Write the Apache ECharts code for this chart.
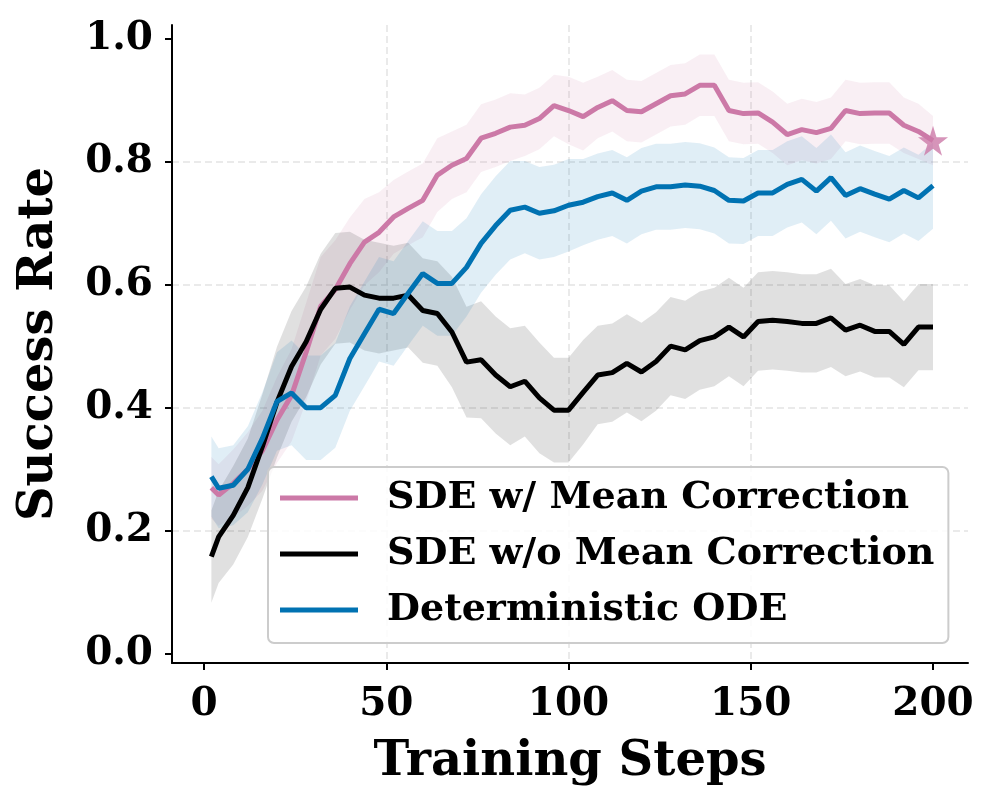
<!DOCTYPE html>
<html>
<head>
<meta charset="utf-8">
<script src="https://cdn.jsdelivr.net/npm/echarts@6/dist/echarts.min.js"></script>
<style>
  html, body { margin: 0; padding: 0; background: #fff; }
  #chart { width: 997px; height: 803px; }
</style>
</head>
<body>
<div id="chart"></div>
<script>
// 训练步数
const steps = [2, 4, 8, 12, 16, 20, 24, 28, 32, 36, 40, 44, 48, 52, 56, 60, 64, 68, 72, 76,
  80, 84, 88, 92, 96, 100, 104, 108, 112, 116, 120, 124, 128, 132, 136, 140, 144, 148, 152, 156,
  160, 164, 168, 172, 176, 180, 184, 188, 192, 196, 200];

// SDE w/ Mean Correction
const meanCorr = [0.27, 0.258, 0.277, 0.30, 0.33, 0.38, 0.42, 0.49, 0.565, 0.592,
  0.634, 0.669, 0.685, 0.71, 0.724, 0.737, 0.778, 0.794, 0.805, 0.838,
  0.846, 0.856, 0.859, 0.870, 0.891, 0.883, 0.873, 0.888, 0.899, 0.883,
  0.881, 0.894, 0.907, 0.910, 0.924, 0.924, 0.883, 0.878, 0.879, 0.864,
  0.844, 0.852, 0.847, 0.854, 0.883, 0.878, 0.879, 0.879, 0.859, 0.849, 0.834];
const meanCorrStd = [0.05, 0.05, 0.055, 0.06, 0.065, 0.07, 0.075, 0.08, 0.08, 0.08,
  0.075, 0.07, 0.065, 0.06, 0.06, 0.06, 0.06, 0.055, 0.055, 0.055,
  0.055, 0.055, 0.05, 0.05, 0.05, 0.055, 0.055, 0.05, 0.05, 0.05,
  0.05, 0.05, 0.05, 0.05, 0.05, 0.05, 0.05, 0.05, 0.05, 0.05,
  0.05, 0.05, 0.05, 0.05, 0.05, 0.05, 0.05, 0.05, 0.045, 0.045, 0.04];

// SDE w/o Mean Correction
const noCorr = [0.158, 0.19, 0.225, 0.27, 0.337, 0.409, 0.467, 0.507, 0.56, 0.594,
  0.596, 0.583, 0.578, 0.578, 0.583, 0.558, 0.553, 0.523, 0.474, 0.478,
  0.453, 0.434, 0.443, 0.416, 0.396, 0.396, 0.425, 0.453, 0.457, 0.472,
  0.458, 0.475, 0.50, 0.494, 0.509, 0.515, 0.531, 0.515, 0.54, 0.542,
  0.54, 0.537, 0.537, 0.546, 0.526, 0.534, 0.524, 0.524, 0.503, 0.531, 0.531];
const noCorrStd = [0.075, 0.075, 0.08, 0.08, 0.085, 0.09, 0.09, 0.09, 0.09, 0.09,
  0.09, 0.09, 0.09, 0.085, 0.085, 0.085, 0.085, 0.09, 0.09, 0.095,
  0.095, 0.095, 0.09, 0.09, 0.085, 0.085, 0.085, 0.08, 0.08, 0.08,
  0.08, 0.08, 0.08, 0.08, 0.08, 0.08, 0.08, 0.08, 0.08, 0.08,
  0.08, 0.08, 0.08, 0.08, 0.075, 0.075, 0.075, 0.075, 0.07, 0.07, 0.07];

// Deterministic ODE
const ode = [0.288, 0.269, 0.274, 0.30, 0.35, 0.41, 0.424, 0.40, 0.40, 0.42,
  0.48, 0.52, 0.56, 0.553, 0.586, 0.618, 0.602, 0.602, 0.628, 0.667,
  0.696, 0.721, 0.726, 0.716, 0.72, 0.729, 0.734, 0.743, 0.749, 0.737,
  0.752, 0.759, 0.759, 0.762, 0.760, 0.753, 0.737, 0.736, 0.749, 0.749,
  0.763, 0.771, 0.752, 0.774, 0.745, 0.756, 0.747, 0.739, 0.753, 0.741, 0.761];
const odeStd = [0.065, 0.065, 0.065, 0.07, 0.075, 0.08, 0.085, 0.085, 0.085, 0.085,
  0.085, 0.085, 0.085, 0.085, 0.085, 0.085, 0.085, 0.085, 0.08, 0.08,
  0.08, 0.08, 0.075, 0.075, 0.075, 0.075, 0.07, 0.07, 0.07, 0.07,
  0.07, 0.07, 0.07, 0.07, 0.07, 0.07, 0.07, 0.07, 0.07, 0.07,
  0.07, 0.07, 0.07, 0.07, 0.07, 0.07, 0.07, 0.07, 0.07, 0.07, 0.07];

const xTicks = [0, 50, 100, 150, 200];
const yTicks = [0, 0.2, 0.4, 0.6, 0.8, 1.0];

const names = ['SDE w/ Mean Correction', 'SDE w/o Mean Correction', 'Deterministic ODE'];
const colors = ['#CC79A7', '#000000', '#0072B2'];
const bandColors = ['rgba(204,121,167,0.12)', 'rgba(0,0,0,0.12)', 'rgba(0,114,178,0.12)'];

const fontFamily = 'DejaVu Serif';

// 阴影带：用自定义系列画成一个多边形
function bandSeries(mean, std, idx) {
  let bandData = steps.map((x, i) => [x, mean[i] - std[i], mean[i] + std[i]]);
  return {
    name: 'band-' + idx,
    type: 'custom',
    data: bandData,
    silent: true,
    z: 1,
    encode: { x: 0, y: [1, 2] },
    renderItem: function (params, api) {
      if (params.dataIndex !== 0) return null;
      let upper = [];
      let lower = [];
      for (let i = 0; i < bandData.length; i++) {
        lower.push(api.coord([bandData[i][0], bandData[i][1]]));
        upper.push(api.coord([bandData[i][0], bandData[i][2]]));
      }
      return {
        type: 'polygon',
        shape: { points: lower.concat(upper.reverse()) },
        style: { fill: bandColors[idx], stroke: 'none' }
      };
    }
  };
}

function lineSeries(mean, idx) {
  return {
    name: names[idx],
    type: 'line',
    data: steps.map((x, i) => [x, mean[i]]),
    symbol: 'none',
    lineStyle: { color: colors[idx], width: 5 },
    itemStyle: { color: colors[idx] },
    z: 3
  };
}

const starPath = 'path://M50,0 L61,35 L98,35 L68,57 L79,91 L50,70 L21,91 L32,57 L2,35 L39,35 Z';

const chart = echarts.init(document.getElementById('chart'), null, { renderer: 'canvas' });

const option = {
  animation: false,
  backgroundColor: '#fff',
  grid: { left: 172, right: 29, top: 25, bottom: 140, containLabel: false },
  legend: {
    data: names,
    left: 268,
    top: 467,
    orient: 'vertical',
    icon: 'rect',
    itemWidth: 78,
    itemHeight: 5,
    itemGap: 16,
    padding: [11, 14, 13, 12],
    backgroundColor: 'rgba(255,255,255,0.85)',
    borderColor: '#cccccc',
    borderWidth: 2,
    borderRadius: 6,
    textStyle: {
      fontFamily: fontFamily,
      fontWeight: 'bold',
      fontSize: 38,
      lineHeight: 40,
      color: '#000',
      padding: [0, 0, 0, 24]
    }
  },
  xAxis: {
    type: 'value',
    min: -8.8,
    max: 209.6,
    name: 'Training Steps',
    nameLocation: 'middle',
    nameGap: 76,
    nameTextStyle: { fontFamily: fontFamily, fontWeight: 'bold', fontSize: 48, color: '#000' },
    axisLine: { show: true, onZero: false, lineStyle: { color: '#000', width: 2 } },
    axisTick: { show: true, customValues: xTicks, length: 7, lineStyle: { color: '#000', width: 2 } },
    axisLabel: {
      customValues: xTicks,
      margin: 22,
      fontFamily: fontFamily,
      fontWeight: 'bold',
      fontSize: 39,
      color: '#000'
    },
    splitLine: {
      show: true,
      showMinLine: false,
      showMaxLine: false,
      lineStyle: { color: '#e3e3e3', width: 1.5, type: [7, 4] }
    }
  },
  yAxis: {
    type: 'value',
    min: -0.015,
    max: 1.022,
    name: 'Success Rate',
    nameLocation: 'middle',
    nameGap: 108,
    nameRotate: 90,
    nameTextStyle: { fontFamily: fontFamily, fontWeight: 'bold', fontSize: 48, color: '#000' },
    axisLine: { show: true, onZero: false, lineStyle: { color: '#000', width: 2 } },
    axisTick: { show: true, customValues: yTicks, length: 7, lineStyle: { color: '#000', width: 2 } },
    axisLabel: {
      customValues: yTicks,
      margin: 19,
      fontFamily: fontFamily,
      fontWeight: 'bold',
      fontSize: 39,
      color: '#000',
      formatter: function (v) { return v.toFixed(1); }
    },
    splitLine: {
      show: true,
      showMinLine: false,
      showMaxLine: false,
      lineStyle: { color: '#e3e3e3', width: 1.5, type: [7, 4] }
    }
  },
  series: [
    bandSeries(meanCorr, meanCorrStd, 0),
    bandSeries(noCorr, noCorrStd, 1),
    bandSeries(ode, odeStd, 2),
    lineSeries(meanCorr, 0),
    lineSeries(noCorr, 1),
    lineSeries(ode, 2),
    {
      name: 'final-star',
      type: 'scatter',
      data: [[steps[steps.length - 1], meanCorr[meanCorr.length - 1]]],
      symbol: starPath,
      symbolSize: 30,
      itemStyle: { color: colors[0] },
      silent: true,
      z: 4
    }
  ]
};

chart.setOption(option);
</script>
</body>
</html>
